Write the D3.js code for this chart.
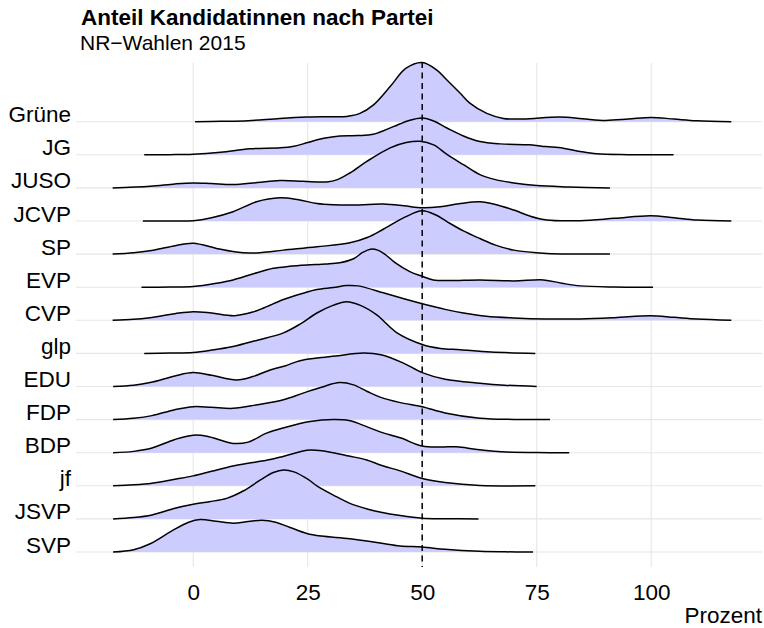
<!DOCTYPE html>
<html>
<head>
<meta charset="utf-8">
<script src="https://cdn.jsdelivr.net/npm/d3@7"></script>
<style>
  body { margin: 0; background: #fff; }
  text { font-family: "Liberation Sans", Arial, sans-serif; }
</style>
</head>
<body>
<script>
"use strict";
// parties, top to bottom
const parties = ["Grüne", "JG", "JUSO", "JCVP", "SP", "EVP", "CVP", "glp", "EDU", "FDP", "BDP", "jf", "JSVP", "SVP"]
const xTicks = [0, 25, 50, 75, 100]
const refLine = 50

// [Prozent, scaled density]
const gruene = [[0.4,0],[6,0.01],[12,0.03],[18.9,0.1],[24.8,0.14],[30,0.15],[33.5,0.16],[36.4,0.25],[39.3,0.5],[43,1.06],[46.4,1.61],[50,1.79],[53.2,1.56],[55.4,1.26],[58.3,0.86],[60.4,0.56],[64.1,0.25],[67.7,0.1],[72,0.08],[80,0.14],[85,0.09],[90,0.04],[95,0.08],[100,0.13],[105,0.08],[110,0.03],[117.5,0]]
const jg = [[-10.7,0],[-5,0.005],[0,0.02],[6,0.08],[12.4,0.18],[19,0.21],[22,0.26],[25,0.37],[28.5,0.5],[32,0.57],[36,0.58],[39.3,0.62],[43.7,0.85],[47,1.03],[50,1.11],[52.5,1.02],[55.4,0.81],[59,0.57],[62.6,0.4],[67,0.33],[73.5,0.3],[77,0.25],[80.8,0.2],[84.5,0.1],[88.1,0.03],[95,0.005],[104.9,0]]
const juso = [[-17.6,0],[-9.4,0.05],[-4,0.12],[0,0.15],[4,0.13],[8.7,0.1],[14,0.16],[18.9,0.22],[24,0.2],[29.1,0.18],[31.5,0.25],[34.2,0.45],[37.9,0.8],[43,1.21],[46.5,1.37],[49.5,1.41],[52.5,1.3],[55.4,1.01],[59,0.7],[62.6,0.4],[66,0.25],[70,0.15],[75,0.07],[82,0.03],[91,0]]
const jcvp = [[-11,0],[-5,0.002],[0,0.01],[4,0.1],[8.7,0.28],[13.8,0.58],[18.9,0.7],[23,0.64],[27,0.53],[30.6,0.49],[34.2,0.48],[41.5,0.51],[46,0.46],[50,0.4],[53.9,0.43],[58,0.52],[62.6,0.58],[66,0.5],[70,0.33],[73.5,0.15],[77.2,0.03],[84.5,0.01],[92,0.08],[99.8,0.16],[105,0.1],[110,0.03],[117.5,0]]
const sp = [[-17.6,0],[-13,0.04],[-9.5,0.1],[-4.5,0.24],[0,0.33],[5.1,0.17],[9,0.07],[12.4,0.03],[15,0.05],[19.7,0.12],[27,0.22],[34.2,0.34],[38,0.5],[41.5,0.75],[46,1.1],[50,1.31],[53,1.18],[55.4,0.98],[59,0.7],[62.6,0.47],[66,0.27],[70,0.12],[77.2,0.02],[84,0.005],[91,0]]
const evp = [[-11.3,0],[-5,0.005],[0,0.02],[5.1,0.12],[8.7,0.22],[13,0.4],[17.5,0.57],[21,0.63],[24.8,0.67],[29,0.7],[32,0.74],[35,0.86],[37,1.05],[38.7,1.15],[40.3,1.12],[42,0.98],[44,0.75],[47.3,0.47],[50,0.33],[52.4,0.22],[56,0.2],[62.6,0.22],[70,0.19],[76.5,0.22],[80.5,0.12],[84.5,0.04],[92,0.005],[100.4,0]]
const cvp = [[-17.6,0],[-13,0.03],[-9.5,0.08],[-4,0.2],[0,0.26],[4,0.22],[9,0.14],[13,0.25],[15.5,0.38],[19.7,0.63],[24,0.82],[27,0.93],[30.6,0.99],[33.5,1.05],[36,1.04],[41.5,0.83],[46,0.65],[50,0.5],[55,0.33],[59,0.22],[64,0.12],[70,0.07],[77,0.04],[84.5,0.04],[92,0.08],[99.8,0.14],[105,0.09],[110,0.04],[117.5,0]]
const glp = [[-10.7,0],[-5,0.01],[0,0.03],[4,0.1],[8.7,0.21],[14,0.4],[19.7,0.62],[23.5,0.9],[27,1.22],[30.5,1.45],[33.5,1.56],[36.5,1.45],[40,1.17],[44.5,0.62],[50,0.27],[54,0.15],[58.3,0.11],[65,0.04],[74.7,0]]
const edu = [[-17.5,0],[-13,0.04],[-9.4,0.12],[-4,0.32],[0,0.42],[4,0.34],[9.5,0.2],[13,0.3],[16.8,0.5],[20,0.62],[23.3,0.78],[27,0.86],[31,0.92],[37.1,1.01],[41,0.96],[46,0.7],[50,0.42],[55,0.22],[62.6,0.1],[68,0.04],[75,0]]
const fdp = [[-17.5,0],[-13,0.04],[-9,0.12],[-4,0.3],[0,0.39],[4,0.37],[8.7,0.34],[14,0.45],[19.7,0.6],[24,0.8],[28,0.98],[32,1.12],[35,1.05],[38,0.85],[40.8,0.68],[45,0.52],[50,0.39],[55,0.2],[62.6,0.04],[70,0.005],[77.9,0]]
const bdp = [[-17.5,0],[-13,0.04],[-9,0.14],[-4,0.4],[0,0.53],[3,0.5],[8.7,0.28],[12,0.32],[16,0.59],[20,0.76],[25.5,0.94],[30.6,1.0],[34,0.97],[38,0.78],[40.8,0.63],[45.2,0.45],[50,0.2],[54,0.17],[57.5,0.18],[62,0.1],[68.5,0.02],[75,0.005],[82.1,0]]
const jf = [[-17.5,0],[-13,0.03],[-9,0.08],[-4,0.2],[0,0.3],[4,0.44],[8.7,0.6],[12,0.68],[16,0.77],[20,0.9],[25.5,1.08],[30.6,1.0],[34,0.9],[37.9,0.78],[41,0.62],[45.2,0.45],[50,0.22],[55,0.1],[62.6,0.01],[74.7,0]]
const jsvp = [[-17.5,0],[-13,0.04],[-9,0.12],[-4,0.32],[0,0.44],[3.5,0.52],[7.3,0.62],[11,0.85],[14.6,1.17],[17.5,1.4],[19.7,1.48],[22,1.42],[25,1.2],[27,1.0],[30.6,0.72],[34.2,0.47],[38,0.3],[41,0.2],[45.2,0.1],[50,0.02],[55,0.005],[62.3,0]]
const svp = [[-17.5,0],[-13,0.07],[-9.4,0.25],[-4.4,0.66],[-1,0.9],[1.5,0.98],[5,0.93],[8.7,0.87],[12,0.92],[15,0.96],[18,0.9],[21,0.75],[24.8,0.56],[28,0.48],[34.2,0.4],[40.8,0.27],[45.2,0.18],[50,0.15],[55,0.08],[62.6,0.02],[68,0.005],[74.2,0]]

const densities = [gruene, jg, juso, jcvp, sp, evp, cvp, glp, edu, fdp, bdp, jf, jsvp, svp]

const measurements = {
    width: 764,
    height: 628,
    left: 76,
    right: 762,
    top: 63,
    bottom: 567
}

const svgContainer = d3.select("body").append("svg")
    .attr("width", measurements.width)
    .attr("height", measurements.height)

// scales
const scaleX = d3.scaleLinear()
    .domain([-25.6, 124.2])
    .range([measurements.left, measurements.right])

const scaleY = d3.scalePoint()
    .domain(parties)
    .range([121.7, 552])

const rowStep = scaleY.step()
const scaleH = d3.scaleLinear()
    .domain([0, 1])
    .range([0, rowStep])

// grid
svgContainer.append("g").selectAll("line")
    .data(xTicks)
    .enter().append("line")
    .attr("x1", d => scaleX(d)).attr("x2", d => scaleX(d))
    .attr("y1", measurements.top).attr("y2", measurements.bottom)
    .attr("stroke", "#e6e6e6")
    .attr("stroke-width", 1.1)

svgContainer.append("g").selectAll("line")
    .data(parties)
    .enter().append("line")
    .attr("x1", measurements.left).attr("x2", measurements.right)
    .attr("y1", d => scaleY(d)).attr("y2", d => scaleY(d))
    .attr("stroke", "#e6e6e6")
    .attr("stroke-width", 1.1)

// ridges, top row first so lower ones overlap
const ridges = svgContainer.append("g")
const smooth = d3.curveCatmullRom.alpha(0.5)
parties.forEach((p, i) => {
    const base = scaleY(p)
    const area = d3.area()
        .x(d => scaleX(d[0]))
        .y0(base)
        .y1(d => base - scaleH(d[1]))
        .curve(smooth)
    const line = d3.line()
        .x(d => scaleX(d[0]))
        .y(d => base - scaleH(d[1]))
        .curve(smooth)

    ridges.append("path")
        .datum(densities[i])
        .attr("d", area)
        .attr("fill", "#ccccff")

    ridges.append("path")
        .datum(densities[i])
        .attr("d", line)
        .attr("fill", "none")
        .attr("stroke", "#000")
        .attr("stroke-width", 1.5)
})

// dashed reference line at 50 %
svgContainer.append("line")
    .attr("x1", scaleX(refLine)).attr("x2", scaleX(refLine))
    .attr("y1", measurements.top - 1).attr("y2", measurements.bottom)
    .attr("stroke", "#000")
    .attr("stroke-width", 1.5)
    .attr("stroke-dasharray", "6,4.5")

// axes
const yAxis = svgContainer.append("g")
    .attr("transform", `translate(${measurements.left},0)`)
    .call(d3.axisLeft(scaleY).tickSize(0).tickPadding(5))
yAxis.select(".domain").remove()
yAxis.selectAll("text")
    .attr("dy", 0)
    .attr("fill", "#000")
    .style("font-size", "22.5px")

const xAxis = svgContainer.append("g")
    .attr("transform", `translate(0,${measurements.bottom})`)
    .call(d3.axisBottom(scaleX).tickValues(xTicks).tickSize(0))
xAxis.select(".domain").remove()
xAxis.selectAll("text")
    .attr("y", 33)
    .attr("dy", 0)
    .attr("fill", "#000")
    .style("font-size", "22.5px")

svgContainer.append("text")
    .attr("x", measurements.right)
    .attr("y", 623)
    .attr("text-anchor", "end")
    .style("font-size", "22.5px")
    .text("Prozent")

// titles
svgContainer.append("text")
    .attr("x", 81)
    .attr("y", 25)
    .style("font-size", "22.5px")
    .style("font-weight", "bold")
    .text("Anteil Kandidatinnen nach Partei")

svgContainer.append("text")
    .attr("x", 80)
    .attr("y", 50)
    .style("font-size", "21px")
    .text("NR\u2212Wahlen 2015")
</script>
</body>
</html>
